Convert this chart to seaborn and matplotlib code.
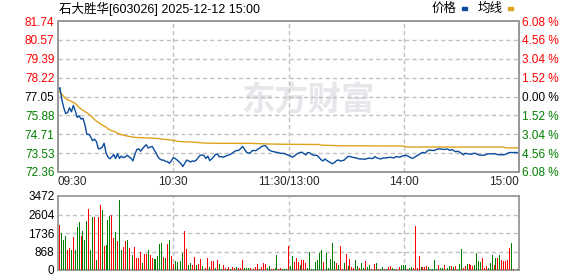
import numpy as np
import pandas as pd
import matplotlib
matplotlib.use("Agg")
import matplotlib.pyplot as plt
from matplotlib.patches import Rectangle
import seaborn as sns

# ---------------- data ----------------
title = "石大胜华[603026] 2025-12-12 15:00"
prev_close = 77.05
price_ticks = [72.36, 73.53, 74.71, 75.88, 77.05, 78.22, 79.39, 80.57, 81.74]
pct_labels = ["6.08", "4.56", "3.04", "1.52", "0.00", "1.52", "3.04", "4.56", "6.08"]
vol_ticks = [0, 868, 1736, 2604, 3472]
time_labels = ["09:30", "10:30", "11:30/13:00", "14:00", "15:00"]
time_minutes = [0, 60, 120, 180, 240]

price = [
    77.45, 77.60, 76.85, 76.35, 76.00, 76.05, 76.35, 76.10, 76.50, 76.15,
    75.75, 75.85, 75.65, 75.70, 75.30, 74.70, 74.70, 74.55, 74.30, 74.40,
    74.25, 73.80, 73.82, 73.90, 74.15, 73.55, 73.30, 73.18, 73.30, 73.45,
    73.20, 73.50, 73.20, 73.35, 73.25, 73.30, 73.40, 73.30, 73.22, 73.05,
    73.45, 73.75, 73.80, 73.65, 73.80, 73.95, 74.05, 73.85, 73.90, 73.95,
    73.75, 73.55, 73.30, 73.17, 73.10, 73.10, 73.02, 73.00, 72.90, 73.05,
    73.25,
    73.20, 73.10, 73.00, 72.88, 72.70, 72.90, 73.10, 73.05, 72.98, 73.05,
    73.02, 73.10, 73.25, 73.40, 73.42, 73.38, 73.20, 73.35, 73.07, 73.17,
    73.30, 73.45, 73.48, 73.30, 73.32, 73.27, 73.33, 73.38, 73.42, 73.48,
    73.55, 73.65, 73.69, 73.70, 73.80, 73.95, 73.80, 73.60, 73.55, 73.52,
    73.68, 73.70, 73.68, 73.78, 73.85, 73.94, 73.98, 74.00, 73.85, 73.72,
    73.66, 73.63, 73.60, 73.58, 73.55, 73.52, 73.52, 73.50, 73.44, 73.40,
    73.36, 73.28, 73.35, 73.45, 73.52, 73.57, 73.59, 73.50, 73.42, 73.57,
    73.55, 73.46, 73.40, 73.40, 73.38, 73.25, 73.12, 73.05, 73.17, 73.07,
    73.00, 72.93, 72.88, 72.95, 73.07, 73.11, 73.04, 73.07, 73.10, 73.22,
    73.33, 73.32, 73.28, 73.26, 73.24, 73.20, 73.17, 73.17, 73.16, 73.15,
    73.20, 73.22, 73.20, 73.20, 73.32, 73.24, 73.20, 73.17, 73.22, 73.23,
    73.24, 73.26, 73.28, 73.25, 73.24, 73.32, 73.30, 73.28, 73.34, 73.38,
    73.40, 73.35, 73.30, 73.22, 73.22, 73.31, 73.38, 73.45, 73.53, 73.58,
    73.53, 73.64, 73.73, 73.71, 73.70, 73.70, 73.76, 73.79, 73.80, 73.77,
    73.76, 73.78, 73.78, 73.70, 73.76, 73.69, 73.62, 73.65, 73.60, 73.53,
    73.43, 73.52, 73.50, 73.48, 73.46, 73.50, 73.53, 73.48, 73.42, 73.41,
    73.40, 73.40, 73.46, 73.49, 73.49, 73.49, 73.49, 73.48, 73.44, 73.43,
    73.43, 73.43, 73.46, 73.52, 73.57, 73.57, 73.57, 73.57, 73.57, 73.54,
]

avg_minute = [0, 2, 4, 5, 7, 9, 11, 12, 14, 16, 18, 19, 21, 23, 25, 26, 28, 30,
              31, 33, 35, 37, 38, 40, 44, 47, 51, 54, 57, 60, 62, 65, 70, 76,
              84, 100, 110, 120, 136, 137, 147, 180, 182, 232, 233, 240]
avg_price = [77.45, 77.19, 76.93, 76.85, 76.74, 76.62, 76.37, 76.27, 76.12, 75.96,
             75.75, 75.62, 75.44, 75.28, 75.15, 75.05, 74.92, 74.85, 74.77, 74.68,
             74.62, 74.57, 74.55, 74.51, 74.49, 74.47, 74.45, 74.41, 74.37, 74.33,
             74.27, 74.24, 74.22, 74.16, 74.14, 74.14, 74.10, 74.08, 74.07, 74.03,
             73.99, 73.97, 73.91, 73.91, 73.86, 73.86]

volume = [
    0,
    2121, 1736, 1398, 1591, 948, 1012, 948, 1543, 948, 2025,
    2266, 1591, 1832, 1398, 2314, 2844, 948, 2507, 2507, 466,
    2507, 3037, 2796, 1109, 1157, 2362, 2555, 2603, 1494, 1784,
    1350, 3278, 916, 1061, 1350, 1398, 1012, 1687, 723, 1061,
    579, 579, 868, 337, 771, 771, 916, 723, 579, 530,
    530, 675, 1205, 1253, 627, 579, 1205, 1398, 675, 289,
    434, 386, 386, 434, 820, 1832, 964, 241, 337, 241,
    627, 241, 289, 530, 193, 241, 96, 579, 145, 434,
    434, 96, 482, 289, 48, 241, 96, 48, 145, 48,
    145, 96, 145, 96, 96, 482, 96, 96, 96, 96,
    289, 48, 145, 289, 48, 145, 337, 289, 96, 193,
    48, 48, 96, 723, 48, 96, 48, 48, 48, 1109,
    193, 675, 386, 579, 386, 241, 482, 482, 337, 96,
    868, 48, 48, 386, 482, 820, 916, 386, 579, 820,
    96, 530, 1253, 434, 337, 241, 1109, 48, 337, 771,
    193, 530, 145, 96, 482, 193, 96, 337, 96, 434,
    145, 241, 48, 48, 289, 337, 48, 48, 145, 48,
    48, 145, 193, 96, 48, 48, 96, 145, 241, 241,
    241, 48, 96, 145, 96, 2073, 96, 675, 145, 145,
    145, 193, 145, 48, 48, 482, 48, 241, 96, 96,
    241, 96, 96, 193, 193, 145, 193, 48, 289, 964,
    96, 193, 289, 289, 241, 193, 241, 820, 434, 386,
    579, 96, 193, 96, 337, 723, 241, 579, 579, 723,
    482, 434, 434, 482, 1012, 1253, 48, 20, 30, 1205,
]
# R = up minute (red bar), G = down minute (green bar)
direction = "".join([
    "G",
    "RGGGRRGRGG", "GRGGGRGGRG", "RRGRGGGRRG", "RGGRRGRGGR",
    "RRRGRRGRRG", "GGGGRGRGRR", "GGGGGRRGGR", "RGRRGGRRGR",
    "RGRGGRRGRG", "RRGRRRGGGR", "RRRRGRRRGG", "RRGGRRGGGR",
    "GGRRRGRRRG", "GGGGGGGRRG", "GGGGRGRRGR", "GRRRGGRGGR",
    "GGRRRGRGGR", "GRRGGRRRGG", "GRGGRRRRGR", "RRGGGGGRGG",
    "RRGGRGRGGG", "RRGRRRGGGG", "RRRGGGRGRG", "RRRRRGRRGG",
])

# ---------------- style ----------------
sns.set_theme(style="white")
plt.rcParams["font.family"] = ["Liberation Sans", "Noto Sans CJK SC", "DejaVu Sans"]
plt.rcParams["lines.scale_dashes"] = False

RED = "#FF0000"
GREEN = "#008000"
BLUE = "#0A4C9E"
GOLD = "#E0A21C"
SPINE = "#999999"
GRID = "#C0C0C0"

minutes = np.arange(len(price))
df_price = pd.DataFrame({"minute": minutes, "price": price})
df_avg = pd.DataFrame({"minute": avg_minute, "avg": avg_price})
df_vol = pd.DataFrame({"minute": np.arange(len(volume)), "volume": volume,
                       "dir": list(direction)})

W, H = 578, 276
fig = plt.figure(figsize=(W / 100, H / 100), dpi=100)
left, right = 58, 519
ax1 = fig.add_axes([left / W, 1 - 172 / H, (right - left) / W, 151 / H])
ax2 = fig.add_axes([left / W, 1 - 270 / H, (right - left) / W, 74 / H])

grid_kw = dict(color=GRID, lw=1.0, ls=(0, (3.0, 2.2)))

# ------- price panel -------
sns.lineplot(data=df_avg, x="minute", y="avg", ax=ax1, color=GOLD, lw=1.0, zorder=3)
sns.lineplot(data=df_price, x="minute", y="price", ax=ax1, color=BLUE, lw=1.0, zorder=4)
ax1.set_xlim(0, 240)
ax1.set_ylim(price_ticks[0], price_ticks[-1])
ax1.set_yticks(price_ticks)
ax1.set_yticklabels([f"{v:.2f}" for v in price_ticks])
ax1.set_xticks(time_minutes)
ax1.set_xticklabels(time_labels)
ax1.set_xlabel("")
ax1.set_ylabel("")
ax1.tick_params(axis="both", length=0, labelsize=8.5, pad=2.5)
ax1.tick_params(axis="x", pad=3)
for lab, v in zip(ax1.get_yticklabels(), price_ticks):
    lab.set_color(RED if v > prev_close else ("black" if v == prev_close else GREEN))
xl = ax1.get_xticklabels()
xl[0].set_ha("left")
xl[-1].set_ha("right")
for v in price_ticks[1:-1]:
    ax1.axhline(v, zorder=2, **grid_kw)
for m in time_minutes[1:-1]:
    ax1.axvline(m, zorder=2, **grid_kw)

ax1.text(0.542, 0.47, "东方财富", transform=ax1.transAxes, ha="center", va="center",
         fontsize=24, fontweight="bold", color="#E6E6EB", zorder=0.5,
         family=["Noto Sans CJK SC"])

axr = ax1.twinx()
axr.set_ylim(price_ticks[0], price_ticks[-1])
axr.set_yticks(price_ticks)
axr.set_yticklabels([f"{p} %" for p in pct_labels])
axr.tick_params(axis="y", length=0, labelsize=8.5, pad=2.5)
for lab, v in zip(axr.get_yticklabels(), price_ticks):
    lab.set_color(RED if v > prev_close else ("black" if v == prev_close else GREEN))
axr.grid(False)
axr.patch.set_visible(False)

for a in (ax1, axr):
    for s in a.spines.values():
        s.set_color(SPINE)
        s.set_linewidth(1.3)

# ------- volume panel -------
sns.barplot(data=df_vol, x="minute", y="volume", hue="dir",
            palette={"R": RED, "G": GREEN}, native_scale=True, width=0.5,
            saturation=1, dodge=False, legend=False, errorbar=None, ax=ax2,
            linewidth=0, zorder=3)
for p in ax2.patches:
    p.set_antialiased(False)
    p.set_edgecolor("none")
ax2.set_xlim(0, 240)
ax2.set_ylim(vol_ticks[0], vol_ticks[-1])
ax2.set_yticks(vol_ticks)
ax2.set_yticklabels([str(v) for v in vol_ticks])
ax2.set_xticks([])
ax2.set_xlabel("")
ax2.set_ylabel("")
ax2.tick_params(axis="both", length=0, labelsize=8.5, pad=2.5, colors="black")
for v in vol_ticks[1:-1]:
    ax2.axhline(v, zorder=2, **grid_kw)
for m in time_minutes[1:-1]:
    ax2.axvline(m, zorder=2, **grid_kw)
for s in ax2.spines.values():
    s.set_color(SPINE)
    s.set_linewidth(1.3)

# ------- title and legend -------
fig.text(59 / W, 1 - 9 / H, title, ha="left", va="center", fontsize=9, color="black")
fig.text(432 / W, 1 - 9 / H, "价格", ha="left", va="center", fontsize=9, color="black")
fig.patches.append(Rectangle((462 / W, 1 - 10 / H), 5 / W, 2.5 / H,
                             transform=fig.transFigure, color=BLUE))
fig.text(478 / W, 1 - 9 / H, "均线", ha="left", va="center", fontsize=9, color="black")
fig.patches.append(Rectangle((508 / W, 1 - 10 / H), 5 / W, 2.5 / H,
                             transform=fig.transFigure, color=GOLD))

fig.savefig("out.png", dpi=100)
